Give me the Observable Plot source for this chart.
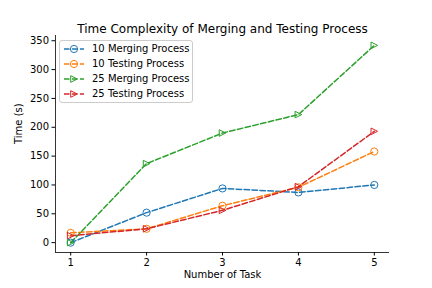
<!DOCTYPE html>
<html>
<head>
<meta charset="utf-8">
<script src="https://cdn.jsdelivr.net/npm/d3@7"></script>
<script src="https://cdn.jsdelivr.net/npm/@observablehq/plot@0.6"></script>
<style>
  html, body { margin: 0; padding: 0; background: #fff; }
  #wrap { position: relative; width: 432px; height: 288px; font-family: "DejaVu Sans", sans-serif; }
  #legend { position: absolute; left: 59px; top: 40px; width: 132px; height: 61px; background: rgba(255,255,255,0.8);
    border: 1px solid #cccccc; border-radius: 3px; box-sizing: content-box; }
  .row { position: absolute; left: 0; height: 15px; display: flex; align-items: center; font-size: 10px; color: #000; white-space: nowrap; }
  .row svg { margin-left: 4px; margin-right: 8px; }
</style>
</head>
<body>
<div id="wrap"><div id="legend"></div></div>
<script>
const tasks = [1, 2, 3, 4, 5];
const merging10 = [0, 52, 94, 87, 100];
const testing10 = [17, 24, 64, 96, 158];
const merging25 = [0, 137, 190, 222, 342];
const testing25 = [12, 24, 56, 97, 193];
const seriesNames = ["10 Merging Process", "10 Testing Process", "25 Merging Process", "25 Testing Process"];
const seriesValues = [merging10, testing10, merging25, testing25];
const seriesColors = ["#1f77b4", "#ff7f0e", "#2ca02c", "#d62728"];
const seriesMarkers = ["circle", "circle", "triangleRight", "triangleRight"];
const yTicks = [0, 50, 100, 150, 200, 250, 300, 350];
const titleText = "Time Complexity of Merging and Testing Process";
const xLabel = "Number of Task";
const yLabel = "Time (s)";

const rows = [];
seriesNames.forEach((name, i) => {
  tasks.forEach((t, j) => rows.push({series: name, task: t, time: seriesValues[i][j], color: seriesColors[i], marker: seriesMarkers[i]}));
});

const triangleRight = {
  draw(ctx, size) {
    const r = Math.sqrt(size / Math.PI);
    ctx.moveTo(r, 0);
    ctx.lineTo(-r, -r);
    ctx.lineTo(-r, r);
    ctx.closePath();
  }
};

const xMin = 0.8, xMax = 5.2, yMin = -17.1, yMax = 359.1;
const dash = "5.55,2.4";

const chart = Plot.plot({
  width: 432,
  height: 288,
  marginLeft: 55,
  marginRight: 43,
  marginTop: 35,
  marginBottom: 36,
  style: {fontFamily: "DejaVu Sans, sans-serif", fontSize: "10px", color: "#000", background: "#fff"},
  x: {domain: [xMin, xMax]},
  y: {domain: [yMin, yMax]},
  marks: [
    Plot.axisX({ticks: tasks, tickSize: 3.5, tickPadding: 3, label: null, tickFormat: d => String(d)}),
    Plot.axisY({ticks: yTicks, tickSize: 3.5, tickPadding: 3, label: null}),
    Plot.ruleX([xMin], {stroke: "#000", strokeWidth: 0.8}),
    Plot.ruleY([yMin], {stroke: "#000", strokeWidth: 0.8}),
    Plot.line(rows, {x: "task", y: "time", z: "series", stroke: "color", strokeWidth: 1.5, strokeDasharray: dash}),
    Plot.dot(rows.filter(d => d.marker === "circle"), {x: "task", y: "time", stroke: "color", r: 3.6, strokeWidth: 1, fill: "none", symbol: "circle"}),
    Plot.dot(rows.filter(d => d.marker === "triangleRight"), {x: "task", y: "time", stroke: "color", r: 3.3, strokeWidth: 1, fill: "none", symbol: triangleRight}),
    Plot.text([titleText], {frameAnchor: "top", dy: -11, fontSize: 12, fill: "#000"}),
    Plot.text([xLabel], {frameAnchor: "bottom", dy: 25, fontSize: 10, fill: "#000"}),
    Plot.text([yLabel], {frameAnchor: "left", dx: -37, rotate: -90, fontSize: 10, fill: "#000"})
  ]
});
document.getElementById("wrap").prepend(chart);

const legend = document.getElementById("legend");
seriesNames.forEach((name, i) => {
  const row = document.createElement("div");
  row.className = "row";
  row.style.top = (0.3 + i * 15) + "px";
  const sym = seriesMarkers[i] === "circle"
    ? `<circle cx="10" cy="5" r="3.6" fill="none" stroke="${seriesColors[i]}" stroke-width="1"/>`
    : `<path d="M13.3,5 L6.7,1.7 L6.7,8.3 Z" fill="none" stroke="${seriesColors[i]}" stroke-width="1"/>`;
  row.innerHTML = `<svg width="20" height="10"><line x1="0" y1="5" x2="20" y2="5" stroke="${seriesColors[i]}" stroke-width="1.5" stroke-dasharray="${dash}"/>${sym}</svg><span>${name}</span>`;
  legend.appendChild(row);
});
</script>
</body>
</html>
